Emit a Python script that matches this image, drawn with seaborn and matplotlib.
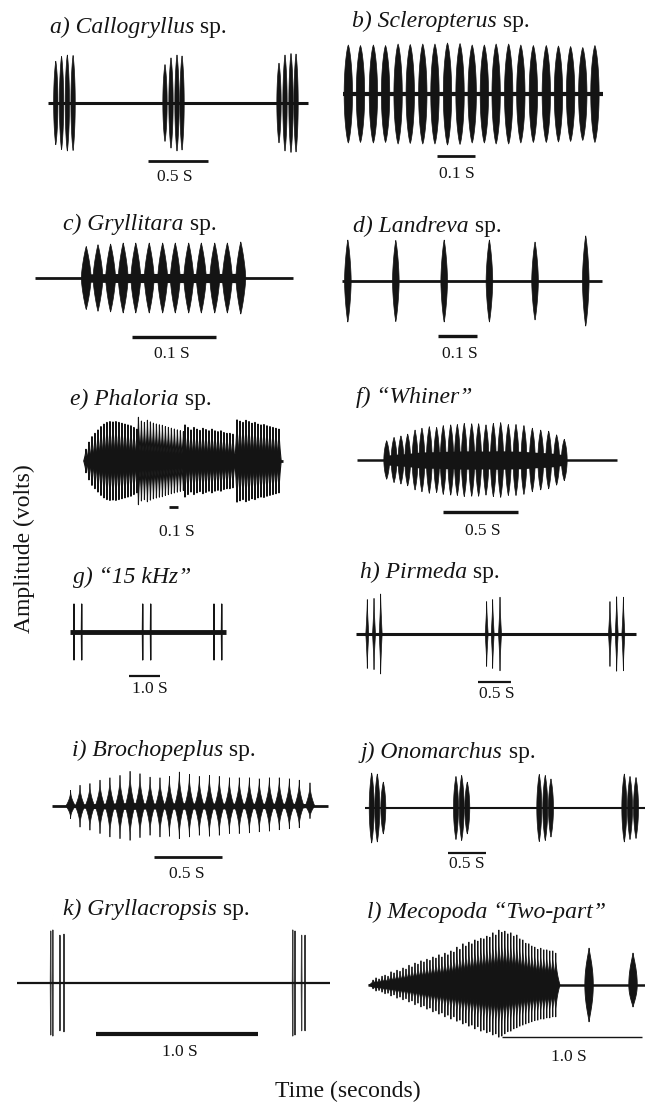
import numpy as np
import matplotlib
matplotlib.use("Agg")
import matplotlib.pyplot as plt
from matplotlib.collections import PolyCollection
import seaborn as sns

# ------------------------------------------------------------------ data
panel_keys = ["a", "b", "c", "d", "e", "f", "g", "h", "i", "j", "k", "l"]
title_italic = ["a) Callogryllus", "b) Scleropterus", "c) Gryllitara", "d) Landreva",
                "e) Phaloria", "f) \u201cWhiner\u201d", "g) \u201c15 kHz\u201d", "h) Pirmeda",
                "i) Brochopeplus", "j) Onomarchus", "k) Gryllacropsis",
                "l) Mecopoda \u201cTwo-part\u201d"]
title_plain = [" sp.", " sp.", " sp.", " sp.", " sp.", "", "", " sp.", " sp.", " sp.", " sp.", ""]
bar_lengths = [0.5, 0.1, 0.1, 0.1, 0.1, 0.5, 1.0, 0.5, 0.5, 0.5, 1.0, 1.0]   # seconds
bar_labels = ["0.5 S", "0.1 S", "0.1 S", "0.1 S", "0.1 S", "0.5 S", "1.0 S", "0.5 S",
              "0.5 S", "0.5 S", "1.0 S", "1.0 S"]
record_ends = [2.17, 0.684, 0.307, 0.667, 2.2, 1.733, 5.03, 4.24, 2.03, 3.8, 1.93, 2.1]  # s

# pulse onsets (s) and relative amplitudes
a_times = [0.065, 0.113, 0.161, 0.209, 0.975, 1.025, 1.075, 1.117, 1.925, 1.975, 2.025, 2.067]
a_amps = [0.87, 0.97, 1.0, 0.99, 0.80, 0.94, 1.0, 0.98, 0.83, 1.0, 1.03, 1.02]

b_times = [0.014, 0.046, 0.080, 0.112, 0.145, 0.177, 0.210, 0.242, 0.275, 0.308, 0.340,
           0.372, 0.403, 0.436, 0.468, 0.501, 0.535, 0.567, 0.599, 0.631, 0.663]
b_amps = [0.98, 0.97, 0.98, 0.97, 1.0, 0.99, 1.0, 1.0, 1.02, 1.01, 0.98, 0.98, 1.0, 1.0,
          0.98, 0.97, 0.97, 0.96, 0.95, 0.93, 0.97]

c_times = [0.061, 0.075, 0.090, 0.105, 0.120, 0.136, 0.152, 0.167, 0.183, 0.198, 0.214,
           0.229, 0.245]
c_amps = [0.90, 0.95, 0.97, 1.0, 1.0, 1.0, 1.0, 1.0, 1.0, 1.0, 1.0, 1.0, 1.03]

d_times = [0.015, 0.138, 0.262, 0.378, 0.495, 0.625]
d_amps = [1.0, 0.99, 1.0, 1.0, 0.95, 1.1]

e_chirp_onsets = [0.011, 0.594, 1.111, 1.689]
e_pulse_period = 0.0333
e_amps = [
    [0.28, 0.45, 0.58, 0.66, 0.74, 0.82, 0.88, 0.92, 0.94, 0.93, 0.94, 0.92, 0.90, 0.88,
     0.86, 0.84, 0.80, 0.76],
    [1.04, 0.95, 0.92, 0.97, 0.93, 0.90, 0.88, 0.86, 0.85, 0.82, 0.80, 0.78, 0.76, 0.74,
     0.72, 0.70],
    [0.86, 0.80, 0.74, 0.80, 0.76, 0.73, 0.78, 0.75, 0.72, 0.76, 0.72, 0.70, 0.72, 0.68,
     0.66, 0.66, 0.64],
    [0.98, 0.95, 0.92, 0.97, 0.94, 0.90, 0.92, 0.88, 0.86, 0.87, 0.84, 0.82, 0.80, 0.78,
     0.76],
]

f_times = [0.198, 0.247, 0.293, 0.338, 0.387, 0.433, 0.482, 0.531, 0.575, 0.625, 0.669,
           0.715, 0.765, 0.811, 0.860, 0.909, 0.958, 1.009, 1.060, 1.113, 1.169, 1.225,
           1.278, 1.331, 1.382]
f_amps = [0.52, 0.61, 0.65, 0.70, 0.81, 0.86, 0.90, 0.88, 0.93, 0.95, 0.96, 0.99, 0.98,
          0.98, 0.95, 0.99, 1.01, 0.96, 0.96, 0.93, 0.86, 0.81, 0.78, 0.68, 0.56]

g_times = [0.129, 0.377, 2.345, 2.603, 4.645, 4.894]
g_amps = [1.0, 1.0, 1.0, 1.0, 1.0, 1.0]

h_times = [0.171, 0.273, 0.374, 1.980, 2.071, 2.182, 3.848, 3.950, 4.051]
h_amps = [0.86, 0.89, 1.0, 0.81, 0.86, 0.92, 0.81, 0.93, 0.92]

i_times = [0.137, 0.206, 0.279, 0.353, 0.426, 0.500, 0.574, 0.647, 0.721, 0.794, 0.863,
           0.936, 1.010, 1.083, 1.157, 1.230, 1.304, 1.377, 1.451, 1.524, 1.598, 1.671,
           1.745, 1.818, 1.897]
i_top = [0.46, 0.61, 0.66, 0.76, 0.83, 0.90, 1.02, 0.95, 0.85, 0.83, 0.87, 1.0, 0.93, 0.87,
         0.90, 0.87, 0.83, 0.83, 0.83, 0.80, 0.83, 0.83, 0.80, 0.76, 0.68]
i_bot = [0.37, 0.62, 0.71, 0.81, 0.91, 0.96, 1.01, 0.93, 0.86, 0.91, 0.89, 0.96, 0.91, 0.86,
         0.89, 0.86, 0.81, 0.81, 0.79, 0.76, 0.74, 0.70, 0.67, 0.64, 0.37]

j_times = [0.088, 0.162, 0.241, 1.197, 1.272, 1.346, 2.293, 2.372, 2.447, 3.412, 3.487, 3.566]
j_amps = [1.0, 0.97, 0.74, 0.90, 0.93, 0.74, 0.96, 0.93, 0.83, 0.97, 0.90, 0.87]

k_times = [0.208, 0.221, 0.265, 0.290, 1.702, 1.716, 1.757, 1.778]
k_amps = [0.98, 1.0, 0.90, 0.92, 1.0, 0.98, 0.90, 0.90]

l_train_onset = 0.036
l_pulse_period = 0.0214
l_top = [0.09, 0.13, 0.11, 0.16, 0.18, 0.16, 0.24, 0.22, 0.27, 0.25,
         0.31, 0.29, 0.36, 0.33, 0.40, 0.38, 0.44, 0.42, 0.47, 0.45,
         0.51, 0.49, 0.55, 0.51, 0.58, 0.55, 0.62, 0.60, 0.69, 0.65,
         0.75, 0.71, 0.78, 0.75, 0.82, 0.80, 0.85, 0.84, 0.89, 0.87,
         0.95, 0.91, 1.00, 0.96, 0.98, 0.93, 0.95, 0.89, 0.91, 0.84,
         0.82, 0.76, 0.75, 0.71, 0.69, 0.65, 0.67, 0.64, 0.64, 0.62,
         0.62, 0.58]
l_bot = [0.07, 0.11, 0.10, 0.13, 0.16, 0.15, 0.20, 0.18, 0.24, 0.22,
         0.27, 0.25, 0.31, 0.29, 0.36, 0.33, 0.40, 0.38, 0.44, 0.42,
         0.49, 0.47, 0.53, 0.51, 0.58, 0.55, 0.62, 0.58, 0.66, 0.64,
         0.71, 0.69, 0.75, 0.73, 0.80, 0.76, 0.84, 0.82, 0.87, 0.85,
         0.91, 0.89, 0.95, 0.93, 0.89, 0.85, 0.84, 0.80, 0.78, 0.75,
         0.73, 0.71, 0.69, 0.67, 0.65, 0.64, 0.62, 0.62, 0.60, 0.60,
         0.58, 0.58]
l_part2_times = [1.579, 1.893]
l_part2_top = [0.67, 0.58]
l_part2_bot = [0.67, 0.40]

# ------------------------------------------------------------------ assemble series
e_times, e_flat = [], []
for onset, amps in zip(e_chirp_onsets, e_amps):
    for n, a in enumerate(amps):
        e_times.append(onset + n * e_pulse_period)
        e_flat.append(a)
l_times = [l_train_onset + n * l_pulse_period for n in range(len(l_top))]

series = {
    "a": (a_times, a_amps, a_amps), "b": (b_times, b_amps, b_amps),
    "c": (c_times, c_amps, c_amps), "d": (d_times, d_amps, d_amps),
    "e": (e_times, e_flat, e_flat), "f": (f_times, f_amps, f_amps),
    "g": (g_times, g_amps, g_amps), "h": (h_times, h_amps, h_amps),
    "i": (i_times, i_top, i_bot), "j": (j_times, j_amps, j_amps),
    "k": (k_times, k_amps, k_amps), "l": (l_times, l_top, l_bot),
}

# ------------------------------------------------------------------ layout / style (pixels)
W, H = 645, 1102
# cell = (left, top, right, bottom); x0 = px of t=0; yb = baseline px; pps = px per s; ppa = px per unit amplitude
layout = {
    "a": dict(cell=(0, 0, 335, 195), x0=48, yb=103, pps=120, ppa=48, title=(50, 33),
              bar=(148, 161, 2.0), lab=(175, 181), w=0.036, q=2.0, p=0.8, blw=2.2),
    "b": dict(cell=(335, 0, 645, 195), x0=343, yb=94, pps=380, ppa=50, title=(352, 27),
              bar=(437, 156, 2.0), lab=(457, 178), w=0.022, q=2.0, p=0.75, blw=3.0),
    "c": dict(cell=(0, 195, 335, 372), x0=35, yb=278, pps=840, ppa=35, title=(63, 230),
              bar=(132, 337, 2.4), lab=(172, 358), w=0.0118, q=1.4, p=0.9, blw=2.0, core=0.13),
    "d": dict(cell=(335, 195, 645, 372), x0=342, yb=281, pps=390, ppa=41, title=(353, 232),
              bar=(438, 336, 2.4), lab=(460, 358), w=0.017, q=1.6, p=0.85, blw=2.0),
    "e": dict(cell=(0, 372, 335, 545), x0=85, yb=461, pps=90, ppa=42, title=(70, 405),
              bar=(169, 507, 2.0), lab=(177, 536), w=0.05, q=1.0, p=1.5, blw=2.0, core=0.22,
              plw=0.8),
    "f": dict(cell=(335, 372, 645, 545), x0=357, yb=460, pps=150, ppa=37, title=(356, 403),
              bar=(443, 512, 2.4), lab=(483, 535), w=0.038, q=2.0, p=0.9, blw=1.8, core=0.25),
    "g": dict(cell=(0, 545, 335, 712), x0=70, yb=632, pps=31, ppa=28, title=(73, 583),
              bar=(129, 676, 1.6), lab=(150, 693), w=0.02, q=1.0, p=1.0, blw=3.5, plw=0.9),
    "h": dict(cell=(335, 545, 645, 712), x0=356, yb=634, pps=66, ppa=40, title=(360, 578),
              bar=(478, 682, 1.6), lab=(497, 698), w=0.045, q=1.0, p=1.4, blw=2.2),
    "i": dict(cell=(0, 712, 335, 880), x0=52, yb=806, pps=136, ppa=34, title=(72, 756),
              bar=(154, 857, 2.0), lab=(187, 878), w=0.07, q=1.0, p=2.0, blw=2.0, core=0.1),
    "j": dict(cell=(335, 712, 645, 880), x0=365, yb=808, pps=76, ppa=35, title=(361, 758),
              bar=(448, 853, 1.6), lab=(467, 868), w=0.065, q=2.0, p=0.9, blw=1.5),
    "k": dict(cell=(0, 880, 335, 1068), x0=17, yb=983, pps=162, ppa=53, title=(63, 915),
              bar=(96, 1034, 3.0), lab=(180, 1056), w=0.004, q=1.0, p=1.0, blw=1.6, plw=0.8,
              pcol="#3a3a3a"),
    "l": dict(cell=(335, 880, 645, 1068), x0=368, yb=985, pps=140, ppa=55, title=(367, 918),
              bar=(502, 1037, 1.0), lab=(569, 1061), w=0.06, q=1.0, p=2.2, blw=1.8, plw=0.6),
}

INK = "#141414"
TITLE_FS = 17
LABEL_FS = 12.5

sns.set_theme(style="white")
plt.rcParams["font.family"] = ["Liberation Serif", "DejaVu Serif"]

fig = plt.figure(figsize=(W / 100, H / 100), dpi=100)
fig.patch.set_facecolor("white")


def pulse_poly(c, top, bot, w, q, p, n=30):
    h = np.linspace(0.0, 1.0, n)
    hw = 0.5 * w * (1.0 - h ** q) ** p
    xs = np.concatenate([c + hw, (c - hw)[::-1], c - hw, (c + hw)[::-1]])
    ys = np.concatenate([h * top, (h * top)[::-1], -h * bot, (-h * bot)[::-1]])
    return np.column_stack([xs, ys])


renderer = fig.canvas.get_renderer()

for idx, key in enumerate(panel_keys):
    L = layout[key]
    cx0, cy0, cx1, cy1 = L["cell"]
    x0, yb, pps, ppa = L["x0"], L["yb"], L["pps"], L["ppa"]
    ax = fig.add_axes([cx0 / W, 1 - cy1 / H, (cx1 - cx0) / W, (cy1 - cy0) / H])
    ax.set_xlim((cx0 - x0) / pps, (cx1 - x0) / pps)
    ax.set_ylim((yb - cy1) / ppa, (yb - cy0) / ppa)
    ax.set_axis_off()
    ax.patch.set_alpha(0)

    times, top, bot = series[key]
    # baseline of the recording
    base = {"t": [0.0, record_ends[idx]], "v": [0.0, 0.0]}
    sns.lineplot(data=base, x="t", y="v", ax=ax, color=INK, lw=L["blw"], legend=False,
                 solid_capstyle="butt")

    # core (fused region between pulses)
    if "core" in L:
        tt = np.asarray(times)
        ax.fill_between(tt, -L["core"] * np.asarray(bot), L["core"] * np.asarray(top),
                        color=INK, lw=0)

    pcol = L.get("pcol", INK)
    polys = [pulse_poly(t, tp, bt, L["w"], L["q"], L["p"]) for t, tp, bt in zip(times, top, bot)]
    if key == "l":
        polys += [pulse_poly(t, tp, bt, 0.06, 2.0, 1.2)
                  for t, tp, bt in zip(l_part2_times, l_part2_top, l_part2_bot)]
    pc = PolyCollection(polys, facecolor=pcol, edgecolor=pcol, linewidth=L.get("plw", 0.5))
    ax.add_collection(pc)

    # scale bar
    bx, by, blw = L["bar"]
    t_bar = (bx - x0) / pps
    y_bar = (yb - by) / ppa
    ax.plot([t_bar, t_bar + bar_lengths[idx]], [y_bar, y_bar], color=INK, lw=blw,
            solid_capstyle="butt")
    lx, ly = L["lab"]
    ax.text((lx - x0) / pps, (yb - ly) / ppa, bar_labels[idx], ha="center", va="baseline",
            fontsize=LABEL_FS, color=INK)

    # title: italic part + upright part
    tx, ty = L["title"]
    t1 = fig.text(tx / W, 1 - ty / H, title_italic[idx], fontsize=TITLE_FS, style="italic",
                  ha="left", va="baseline", color=INK)
    if title_plain[idx]:
        bb = t1.get_window_extent(renderer=renderer)
        fig.text(bb.x1 / W, 1 - ty / H, title_plain[idx], fontsize=TITLE_FS, ha="left",
                 va="baseline", color=INK)

fig.text(24 / W, 1 - 549 / H, "Amplitude (volts)", rotation=90, ha="center", va="center",
         fontsize=17, color=INK)
fig.text(348 / W, 1 - 1097 / H, "Time (seconds)", ha="center", va="baseline",
         fontsize=17, color=INK)

fig.savefig("out.png", dpi=100, facecolor="white")
